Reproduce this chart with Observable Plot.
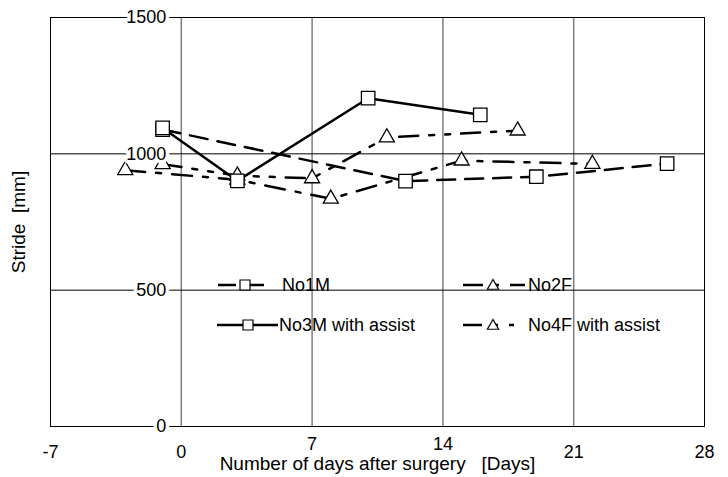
<!DOCTYPE html>
<html><head><meta charset="utf-8">
<script src="https://cdn.jsdelivr.net/npm/d3@7"></script>
<script src="https://cdn.jsdelivr.net/npm/@observablehq/plot@0.6"></script>
<style>body{margin:0;background:#fff;} svg text{white-space:pre;}</style>
</head><body><div id="chart"></div>
<script>
// ---- data ----
const seriesNames = ["No1M", "No2F", "No3M with assist", "No4F with assist"];
const no1mDays = [-1, 12, 19, 26];
const no1mStride = [1089, 900, 916, 964];
const no2fDays = [-3, 3, 8, 15, 22];
const no2fStride = [940, 905, 835, 975, 963];
const no3mDays = [-1, 3, 10, 16];
const no3mStride = [1095, 901, 1204, 1143];
const no4fDays = [-1, 3, 7, 11, 18];
const no4fStride = [962, 920, 910, 1060, 1085];
const xTicks = [-7, 0, 7, 14, 21, 28];
const yTicks = [0, 500, 1000, 1500];
const xTitle = "Number of days after surgery   [Days]";
const yTitle = "Stride  [mm]";

// ---- build table ----
const toRows = (name, days, vals) => days.map((d, i) => ({series: name, day: d, stride: vals[i]}));
const rows = {
  "No1M": toRows(seriesNames[0], no1mDays, no1mStride),
  "No2F": toRows(seriesNames[1], no2fDays, no2fStride),
  "No3M with assist": toRows(seriesNames[2], no3mDays, no3mStride),
  "No4F with assist": toRows(seriesNames[3], no4fDays, no4fStride)
};
const styles = {
  "No1M": {dash: "18,10", symbol: "square", r: 7.6},
  "No2F": {dash: "20,11,5,11", symbol: "triangle", r: 5.6},
  "No3M with assist": {dash: null, symbol: "square", r: 7.6},
  "No4F with assist": {dash: "19,11,5,11,5,11", symbol: "triangle", r: 5.6}
};
const drawOrder = ["No2F", "No4F with assist", "No1M", "No3M with assist"];
const font = "'Liberation Sans', Arial, sans-serif";

const lineMarks = drawOrder.map(n => Plot.line(rows[n], {
  x: "day", y: "stride", stroke: "black", strokeWidth: 2.5,
  strokeDasharray: styles[n].dash || undefined
}));
const dotMarks = drawOrder.map(n => Plot.dot(rows[n], {
  x: "day", y: "stride", symbol: styles[n].symbol, r: styles[n].r,
  fill: "white", stroke: "black", strokeWidth: 1.3
}));
const lowTicks = xTicks.filter(t => t !== 7 && t !== 14);
const highTicks = xTicks.filter(t => t === 7 || t === 14);

const plot = Plot.plot({
  width: 728, height: 477,
  marginLeft: 50, marginRight: 24, marginTop: 17, marginBottom: 51,
  x: {domain: [-7, 28], axis: null},
  y: {domain: [0, 1500], axis: null},
  style: {fontFamily: font, fontSize: "18px", background: "white", color: "black"},
  marks: [
    Plot.ruleX(xTicks.filter(t => t > -7 && t < 28), {stroke: "#7f7f7f", strokeWidth: 1.5}),
    Plot.ruleY(yTicks.filter(t => t > 0 && t < 1500), {stroke: "black", strokeWidth: 1}),
    Plot.frame({stroke: "black", strokeWidth: 1}),
    ...lineMarks,
    ...dotMarks,
    Plot.text(yTicks, {x: 0, y: d => d, text: d => String(d), dx: -15, textAnchor: "end",
      fill: "black", stroke: "white", strokeWidth: 7, fontSize: 18}),
    Plot.text(lowTicks, {x: d => d, y: 0, text: d => String(d), dy: 26, fill: "black", fontSize: 18}),
    Plot.text(highTicks, {x: d => d, y: 0, text: d => String(d), dy: 18, fill: "black", fontSize: 18}),
    Plot.text([xTitle], {frameAnchor: "bottom", dy: 43, textAnchor: "middle", fill: "black", fontSize: 19}),
    Plot.text([yTitle], {frameAnchor: "left", rotate: -90, dx: -32, textAnchor: "middle", fill: "black", fontSize: 19})
  ]
});
document.getElementById("chart").appendChild(plot);

// ---- legend inside plot ----
const svg = d3.select(plot);
const legendLayout = [
  {name: "No1M", x0: 218, x1: 270, mx: 245, tx: 282, y: 285},
  {name: "No3M with assist", x0: 217, x1: 278, mx: 248, tx: 279, y: 325},
  {name: "No2F", x0: 463, x1: 525, mx: 493, tx: 528, y: 285},
  {name: "No4F with assist", x0: 463, x1: 525, mx: 493, tx: 528, y: 325}
];
const lg = svg.append("g").attr("font-family", font).attr("font-size", 18).attr("text-anchor", "start");
legendLayout.forEach(e => {
  const st = styles[e.name];
  const ln = lg.append("line").attr("x1", e.x0).attr("x2", e.x1).attr("y1", e.y).attr("y2", e.y)
    .attr("stroke", "black").attr("stroke-width", 2.5);
  if (st.dash) ln.attr("stroke-dasharray", st.dash);
  const sym = st.symbol === "square" ? d3.symbolSquare : d3.symbolTriangle;
  const size = Math.PI * st.r * st.r * 0.55;
  lg.append("path").attr("d", d3.symbol(sym, size)())
    .attr("transform", `translate(${e.mx},${e.y + (st.symbol === "triangle" ? 1 : 0)})`)
    .attr("fill", "white").attr("stroke", "black").attr("stroke-width", 1.2);
  lg.append("text").attr("x", e.tx).attr("y", e.y).attr("dy", "0.35em")
    .attr("text-anchor", "start").attr("fill", "black").text(e.name);
});
</script>
</body></html>
